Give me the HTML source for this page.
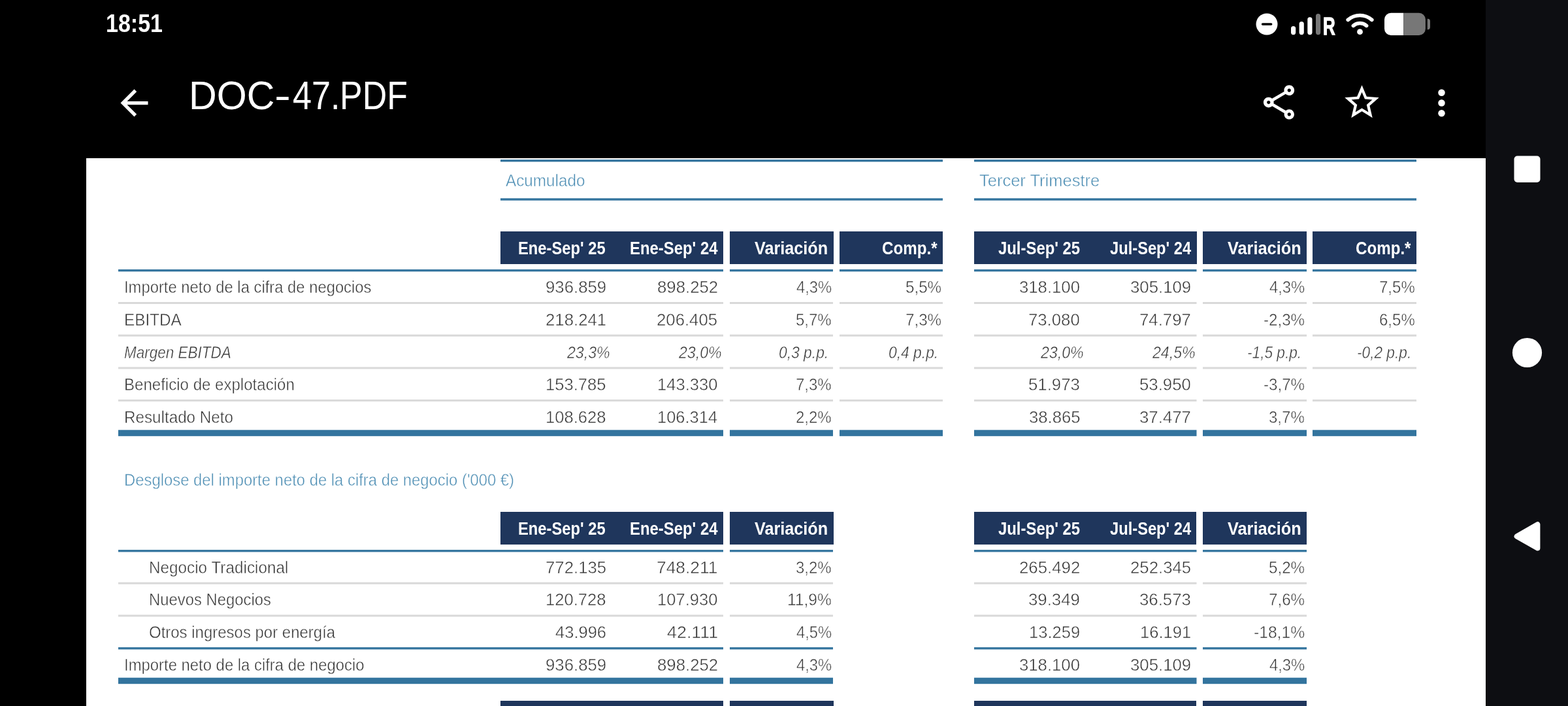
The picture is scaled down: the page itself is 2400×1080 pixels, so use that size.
<!DOCTYPE html>
<html lang="es">
<head>
<meta charset="utf-8">
<meta name="viewport" content="width=2400, initial-scale=1">
<title>DOC-47.PDF</title>
<style>
html,body{margin:0;padding:0}
body{position:relative;width:2400px;height:1080px;overflow:hidden;background:#000;font-family:"Liberation Sans",sans-serif}
header,main,nav,section,.page{position:absolute;left:0;top:0}
h1{margin:0;font-size:inherit;font-weight:400}
.page{left:132px;top:242px;width:2142px;height:838px;background:#fff}
nav{left:2274px;top:0;width:126px;height:1080px;background:#0d0e12}
.t{position:absolute;white-space:pre;line-height:1;font-weight:400;font-style:normal;transform-origin:0 0}
.b{font-weight:700}
.w{-webkit-text-stroke:0.5px #fff}
.k{-webkit-text-stroke:1.3px #fff}
.i{font-style:italic}
.ov,.ic{position:absolute}
.ov{left:0;top:0;display:block}
.ic{display:block;overflow:visible}
</style>
</head>
<body>
<div class="page"></div>
<nav></nav>
<header>
<span class="t b" style="left:162.13px;top:16px;font-size:39px;color:#fff;transform:scaleX(0.8719)">18:51</span>
<span class="t b k" style="left:2025.3px;top:22px;font-size:37px;color:#fff;transform:scaleX(0.7009)">R</span>
<svg class="ic" role="img" aria-label="Status icons" style="left:1915px;top:14px" width="280" height="46" viewBox="1915 14 280 46">
<circle cx="1939" cy="37" r="16.5" fill="#fff"/>
<rect x="1930.8" y="35.3" width="16.6" height="3.5" rx="1.75" fill="#000"/>
<rect x="1976" y="40" width="7.2" height="13.2" rx="3.6" fill="#fff"/>
<rect x="1988.6" y="33.1" width="7.2" height="20.1" rx="3.6" fill="#fff"/>
<rect x="2001.3" y="26.2" width="7.2" height="27" rx="3.6" fill="#fff"/>
<rect x="2014" y="21" width="7.2" height="32.2" rx="3.6" fill="#777"/>
<g fill="none" stroke="#fff" stroke-width="5.6" stroke-linecap="round">
<path d="M2063.2 30.4a27.5 27.5 0 0 1 36.6 0"/>
<path d="M2071.4 39.3a15.4 15.4 0 0 1 20.2 0"/>
</g>
<circle cx="2081.5" cy="48.7" r="4.4" fill="#fff"/>
<path d="M2129 19.8h19.1v34.2h-19.1a10 10 0 0 1-10-10v-14.2a10 10 0 0 1 10-10z" fill="#fff"/>
<path d="M2148.1 19.8h23.8a10 10 0 0 1 10 10v14.2a10 10 0 0 1-10 10h-23.8z" fill="#777"/>
<path d="M2184.8 28.8h0.6a3.6 3.6 0 0 1 3.6 3.6v9.2a3.6 3.6 0 0 1-3.6 3.6h-0.6z" fill="#777"/>
</svg>
<svg class="ic" role="img" aria-label="Back" style="left:173.8px;top:126px" width="63" height="63" viewBox="0 0 24 24"><path fill="#fff" d="M20 11H7.83l5.59-5.59L12 4l-8 8 8 8 1.41-1.41L7.83 13H20v-2z"/></svg>
<h1><span class="t" style="left:288.84px;top:116px;font-size:61px;color:#fff;transform:scaleX(0.9696)">DOC</span><span class="t" style="left:420.36px;top:116px;font-size:61px;color:#fff;transform:scaleX(1.2320)">-</span><span class="t" style="left:447.62px;top:116px;font-size:61px;color:#fff;transform:scaleX(0.8558)">47.</span><span class="t" style="left:519.58px;top:116px;font-size:61px;color:#fff;transform:scaleX(0.8519)">PDF</span></h1>
<svg class="ic" role="img" aria-label="Share" style="left:1926px;top:125.2px" width="63" height="63" viewBox="0 0 24 24"><path fill="#fff" fill-rule="evenodd" d="M18 16.08c-.76 0-1.44.3-1.96.77L8.91 12.7c.05-.23.09-.46.09-.7s-.04-.47-.09-.7l7.05-4.11c.54.5 1.25.81 2.04.81 1.66 0 3-1.34 3-3s-1.34-3-3-3-3 1.34-3 3c0 .24.04.47.09.7L8.04 9.81C7.5 9.31 6.79 9 6 9c-1.66 0-3 1.34-3 3s1.34 3 3 3c.79 0 1.5-.31 2.04-.81l7.12 4.16c-.05.21-.08.43-.08.65 0 1.61 1.31 2.92 2.92 2.92s2.92-1.31 2.92-2.92c0-1.61-1.31-2.92-2.92-2.92zM18 4c.55 0 1 .45 1 1s-.45 1-1 1-1-.45-1-1 .45-1 1-1zM6 13c-.55 0-1-.45-1-1s.45-1 1-1 1 .45 1 1-.45 1-1 1zm12 7.02c-.55 0-1-.45-1-1s.45-1 1-1 1 .45 1 1-.45 1-1 1z"/></svg>
<svg class="ic" role="img" aria-label="Favourite" style="left:2053px;top:124.6px" width="63" height="63" viewBox="0 0 24 24"><path fill="#fff" fill-rule="evenodd" d="M22 9.24l-7.19-.62L12 2 9.19 8.63 2 9.24l5.46 4.73L5.82 21 12 17.27 18.18 21l-1.63-7.03L22 9.24zM12 15.4l-3.76 2.27 1-4.28-3.32-2.88 4.38-.38L12 6.1l1.71 4.04 4.38.38-3.32 2.88 1 4.28L12 15.4z"/></svg>
<svg class="ic" role="img" aria-label="More options" style="left:2174.9px;top:125.9px" width="63" height="63" viewBox="0 0 24 24"><circle cx="12" cy="6" r="2" fill="#fff"/><circle cx="12" cy="12" r="2" fill="#fff"/><circle cx="12" cy="18" r="2" fill="#fff"/></svg>
</header>
<main>
<section>
<svg class="ov" width="2400" height="1080" viewBox="0 0 2400 1080" aria-hidden="true">
<rect x="766" y="244.1" width="677" height="3.4" fill="#33749e"/>
<rect x="766" y="303.3" width="677" height="3.4" fill="#33749e"/>
<rect x="1491" y="244.1" width="677" height="3.4" fill="#33749e"/>
<rect x="1491" y="303.3" width="677" height="3.4" fill="#33749e"/>
</svg>
<span class="t w" style="left:774.14px;top:264px;font-size:25.5px;color:#4c8db3;transform:scaleX(0.9515)">Acumulado</span>
<span class="t w" style="left:1498.86px;top:264px;font-size:25.5px;color:#4c8db3;transform:scaleX(0.9998)">Tercer Trimestre</span>
</section>
<section>
<svg class="ov" width="2400" height="1080" viewBox="0 0 2400 1080" aria-hidden="true">
<rect x="766" y="354" width="341" height="50" fill="#1f365c"/>
<rect x="1117" y="354" width="159" height="50" fill="#1f365c"/>
<rect x="1285" y="354" width="158" height="50" fill="#1f365c"/>
<rect x="1491" y="354" width="341" height="50" fill="#1f365c"/>
<rect x="1841" y="354" width="159" height="50" fill="#1f365c"/>
<rect x="2009" y="354" width="159" height="50" fill="#1f365c"/>
<rect x="181" y="412.1" width="926" height="3.3" fill="#33749e"/>
<rect x="1117" y="412.1" width="158" height="3.3" fill="#33749e"/>
<rect x="1285" y="412.1" width="158" height="3.3" fill="#33749e"/>
<rect x="1491" y="412.1" width="340.5" height="3.3" fill="#33749e"/>
<rect x="1841" y="412.1" width="159" height="3.3" fill="#33749e"/>
<rect x="2009" y="412.1" width="159" height="3.3" fill="#33749e"/>
<rect x="181" y="462" width="926" height="3" fill="#d9d9d9"/>
<rect x="1117" y="462" width="158" height="3" fill="#d9d9d9"/>
<rect x="1285" y="462" width="158" height="3" fill="#d9d9d9"/>
<rect x="1491" y="462" width="340.5" height="3" fill="#d9d9d9"/>
<rect x="1841" y="462" width="159" height="3" fill="#d9d9d9"/>
<rect x="2009" y="462" width="159" height="3" fill="#d9d9d9"/>
<rect x="181" y="511.72" width="926" height="3" fill="#d9d9d9"/>
<rect x="1117" y="511.72" width="158" height="3" fill="#d9d9d9"/>
<rect x="1285" y="511.72" width="158" height="3" fill="#d9d9d9"/>
<rect x="1491" y="511.72" width="340.5" height="3" fill="#d9d9d9"/>
<rect x="1841" y="511.72" width="159" height="3" fill="#d9d9d9"/>
<rect x="2009" y="511.72" width="159" height="3" fill="#d9d9d9"/>
<rect x="181" y="561.44" width="926" height="3" fill="#d9d9d9"/>
<rect x="1117" y="561.44" width="158" height="3" fill="#d9d9d9"/>
<rect x="1285" y="561.44" width="158" height="3" fill="#d9d9d9"/>
<rect x="1491" y="561.44" width="340.5" height="3" fill="#d9d9d9"/>
<rect x="1841" y="561.44" width="159" height="3" fill="#d9d9d9"/>
<rect x="2009" y="561.44" width="159" height="3" fill="#d9d9d9"/>
<rect x="181" y="611.16" width="926" height="3" fill="#d9d9d9"/>
<rect x="1117" y="611.16" width="158" height="3" fill="#d9d9d9"/>
<rect x="1285" y="611.16" width="158" height="3" fill="#d9d9d9"/>
<rect x="1491" y="611.16" width="340.5" height="3" fill="#d9d9d9"/>
<rect x="1841" y="611.16" width="159" height="3" fill="#d9d9d9"/>
<rect x="2009" y="611.16" width="159" height="3" fill="#d9d9d9"/>
<rect x="181" y="657.7" width="926" height="9.5" fill="#33749e"/>
<rect x="1117" y="657.7" width="158" height="9.5" fill="#33749e"/>
<rect x="1285" y="657.7" width="158" height="9.5" fill="#33749e"/>
<rect x="1491" y="657.7" width="340.5" height="9.5" fill="#33749e"/>
<rect x="1841" y="657.7" width="159" height="9.5" fill="#33749e"/>
<rect x="2009" y="657.7" width="159" height="9.5" fill="#33749e"/>
</svg>
<span class="t b" style="left:793.43px;top:367px;font-size:27px;color:#fff;transform:scaleX(0.8799)">Ene-Sep&#x27; 25</span>
<span class="t b" style="left:963.92px;top:367px;font-size:27px;color:#fff;transform:scaleX(0.8852)">Ene-Sep&#x27; 24</span>
<span class="t b" style="left:1154.77px;top:367px;font-size:27px;color:#fff;transform:scaleX(0.9344)">Variación</span>
<span class="t b" style="left:1527.98px;top:367px;font-size:27px;color:#fff;transform:scaleX(0.8844)">Jul-Sep&#x27; 25</span>
<span class="t b" style="left:1698.67px;top:367px;font-size:27px;color:#fff;transform:scaleX(0.8777)">Jul-Sep&#x27; 24</span>
<span class="t b" style="left:1879.49px;top:367px;font-size:27px;color:#fff;transform:scaleX(0.9383)">Variación</span>
<span class="t b" style="left:1349.94px;top:367px;font-size:27px;color:#fff;transform:scaleX(0.8950)">Comp.*</span>
<span class="t b" style="left:2074.76px;top:367px;font-size:27px;color:#fff;transform:scaleX(0.8939)">Comp.*</span>
<span class="t w" style="left:190.43px;top:427px;font-size:25.5px;color:#333;transform:scaleX(0.9335)">Importe neto de la cifra de negocios</span>
<span class="t w" style="left:190.3px;top:477px;font-size:25.5px;color:#333;transform:scaleX(0.9537)">EBITDA</span>
<span class="t i w" style="left:190.12px;top:527px;font-size:25.5px;color:#333;transform:scaleX(0.8828)">Margen EBITDA</span>
<span class="t w" style="left:190.2px;top:576px;font-size:25.5px;color:#333;transform:scaleX(0.9433)">Beneficio de explotación</span>
<span class="t w" style="left:190.31px;top:626px;font-size:25.5px;color:#333;transform:scaleX(0.9501)">Resultado Neto</span>
<span class="t w" style="left:834.86px;top:426px;font-size:26px;color:#333;transform:scaleX(0.9914)">936.859</span>
<span class="t w" style="left:1005.61px;top:426px;font-size:26px;color:#333;transform:scaleX(0.9912)">898.252</span>
<span class="t w" style="left:1218.73px;top:426px;font-size:26px;color:#333;transform:scaleX(0.9115)">4,3%</span>
<span class="t w" style="left:1385.91px;top:426px;font-size:26px;color:#333;transform:scaleX(0.9287)">5,5%</span>
<span class="t w" style="left:1560.2px;top:426px;font-size:26px;color:#333;transform:scaleX(0.9892)">318.100</span>
<span class="t w" style="left:1730.14px;top:426px;font-size:26px;color:#333;transform:scaleX(0.9918)">305.109</span>
<span class="t w" style="left:1942.75px;top:426px;font-size:26px;color:#333;transform:scaleX(0.9143)">4,3%</span>
<span class="t w" style="left:2110.54px;top:426px;font-size:26px;color:#333;transform:scaleX(0.9238)">7,5%</span>
<span class="t w" style="left:834.84px;top:476px;font-size:26px;color:#333;transform:scaleX(0.9918)">218.241</span>
<span class="t w" style="left:1005.23px;top:476px;font-size:26px;color:#333;transform:scaleX(0.9904)">206.405</span>
<span class="t w" style="left:1217.75px;top:476px;font-size:26px;color:#333;transform:scaleX(0.9222)">5,7%</span>
<span class="t w" style="left:1385.91px;top:476px;font-size:26px;color:#333;transform:scaleX(0.9287)">7,3%</span>
<span class="t w" style="left:1574.48px;top:476px;font-size:26px;color:#333;transform:scaleX(0.9895)">73.080</span>
<span class="t w" style="left:1744.32px;top:476px;font-size:26px;color:#333;transform:scaleX(0.9922)">74.797</span>
<span class="t w" style="left:1933.9px;top:476px;font-size:26px;color:#333;transform:scaleX(0.9283)">-2,3%</span>
<span class="t w" style="left:2110.84px;top:476px;font-size:26px;color:#333;transform:scaleX(0.9236)">6,5%</span>
<span class="t i w" style="left:868.24px;top:526px;font-size:26px;color:#333;transform:scaleX(0.8898)">23,3%</span>
<span class="t i w" style="left:1039.18px;top:526px;font-size:26px;color:#333;transform:scaleX(0.8901)">23,0%</span>
<span class="t i w" style="left:1191.51px;top:526px;font-size:26px;color:#333;transform:scaleX(0.8782)">0,3 p.p.</span>
<span class="t i w" style="left:1359.51px;top:526px;font-size:26px;color:#333;transform:scaleX(0.8782)">0,4 p.p.</span>
<span class="t i w" style="left:1593.24px;top:526px;font-size:26px;color:#333;transform:scaleX(0.8898)">23,0%</span>
<span class="t i w" style="left:1764.18px;top:526px;font-size:26px;color:#333;transform:scaleX(0.8901)">24,5%</span>
<span class="t i w" style="left:1908.88px;top:526px;font-size:26px;color:#333;transform:scaleX(0.8708)">-1,5 p.p.</span>
<span class="t i w" style="left:2077.2px;top:526px;font-size:26px;color:#333;transform:scaleX(0.8721)">-0,2 p.p.</span>
<span class="t w" style="left:835.24px;top:575px;font-size:26px;color:#333;transform:scaleX(0.9831)">153.785</span>
<span class="t w" style="left:1006.23px;top:575px;font-size:26px;color:#333;transform:scaleX(0.9828)">143.330</span>
<span class="t w" style="left:1217.76px;top:575px;font-size:26px;color:#333;transform:scaleX(0.9219)">7,3%</span>
<span class="t w" style="left:1574.49px;top:575px;font-size:26px;color:#333;transform:scaleX(0.9919)">51.973</span>
<span class="t w" style="left:1744.29px;top:575px;font-size:26px;color:#333;transform:scaleX(0.9912)">53.950</span>
<span class="t w" style="left:1933.9px;top:575px;font-size:26px;color:#333;transform:scaleX(0.9283)">-3,7%</span>
<span class="t w" style="left:835.24px;top:625px;font-size:26px;color:#333;transform:scaleX(0.9837)">108.628</span>
<span class="t w" style="left:1006.36px;top:625px;font-size:26px;color:#333;transform:scaleX(0.9796)">106.314</span>
<span class="t w" style="left:1217.77px;top:625px;font-size:26px;color:#333;transform:scaleX(0.9217)">2,2%</span>
<span class="t w" style="left:1574.5px;top:625px;font-size:26px;color:#333;transform:scaleX(0.9884)">38.865</span>
<span class="t w" style="left:1744.27px;top:625px;font-size:26px;color:#333;transform:scaleX(0.9929)">37.477</span>
<span class="t w" style="left:1942.2px;top:625px;font-size:26px;color:#333;transform:scaleX(0.9237)">3,7%</span>
</section>
<section>
<span class="t w" style="left:190.03px;top:722px;font-size:25.5px;color:#4c8db3;transform:scaleX(0.9351)">Desglose del importe neto de la cifra de negocio (&#x27;000 €)</span>
<svg class="ov" width="2400" height="1080" viewBox="0 0 2400 1080" aria-hidden="true">
<rect x="766" y="783" width="341" height="50" fill="#1f365c"/>
<rect x="1117" y="783" width="159" height="50" fill="#1f365c"/>
<rect x="1491" y="783" width="340" height="50" fill="#1f365c"/>
<rect x="1841" y="783" width="159" height="50" fill="#1f365c"/>
<rect x="181" y="841.1" width="926" height="3.3" fill="#33749e"/>
<rect x="1117" y="841.1" width="158" height="3.3" fill="#33749e"/>
<rect x="1491" y="841.1" width="340.5" height="3.3" fill="#33749e"/>
<rect x="1841" y="841.1" width="159" height="3.3" fill="#33749e"/>
<rect x="181" y="890.7" width="926" height="3" fill="#d9d9d9"/>
<rect x="1117" y="890.7" width="158" height="3" fill="#d9d9d9"/>
<rect x="1491" y="890.7" width="340.5" height="3" fill="#d9d9d9"/>
<rect x="1841" y="890.7" width="159" height="3" fill="#d9d9d9"/>
<rect x="181" y="940.42" width="926" height="3" fill="#d9d9d9"/>
<rect x="1117" y="940.42" width="158" height="3" fill="#d9d9d9"/>
<rect x="1491" y="940.42" width="340.5" height="3" fill="#d9d9d9"/>
<rect x="1841" y="940.42" width="159" height="3" fill="#d9d9d9"/>
<rect x="181" y="990.14" width="926" height="3.3" fill="#33749e"/>
<rect x="1117" y="990.14" width="158" height="3.3" fill="#33749e"/>
<rect x="1491" y="990.14" width="340.5" height="3.3" fill="#33749e"/>
<rect x="1841" y="990.14" width="159" height="3.3" fill="#33749e"/>
<rect x="181" y="1036.7" width="926" height="9.5" fill="#33749e"/>
<rect x="1117" y="1036.7" width="158" height="9.5" fill="#33749e"/>
<rect x="1491" y="1036.7" width="340.5" height="9.5" fill="#33749e"/>
<rect x="1841" y="1036.7" width="159" height="9.5" fill="#33749e"/>
</svg>
<span class="t b" style="left:793.43px;top:796px;font-size:27px;color:#fff;transform:scaleX(0.8799)">Ene-Sep&#x27; 25</span>
<span class="t b" style="left:963.92px;top:796px;font-size:27px;color:#fff;transform:scaleX(0.8852)">Ene-Sep&#x27; 24</span>
<span class="t b" style="left:1154.77px;top:796px;font-size:27px;color:#fff;transform:scaleX(0.9344)">Variación</span>
<span class="t b" style="left:1527.98px;top:796px;font-size:27px;color:#fff;transform:scaleX(0.8844)">Jul-Sep&#x27; 25</span>
<span class="t b" style="left:1698.67px;top:796px;font-size:27px;color:#fff;transform:scaleX(0.8777)">Jul-Sep&#x27; 24</span>
<span class="t b" style="left:1879.49px;top:796px;font-size:27px;color:#fff;transform:scaleX(0.9383)">Variación</span>
<span class="t w" style="left:227.62px;top:856px;font-size:25.5px;color:#333;transform:scaleX(0.9526)">Negocio Tradicional</span>
<span class="t w" style="left:227.71px;top:905px;font-size:25.5px;color:#333;transform:scaleX(0.9350)">Nuevos Negocios</span>
<span class="t w" style="left:227.86px;top:955px;font-size:25.5px;color:#333;transform:scaleX(0.9401)">Otros ingresos por energía</span>
<span class="t w" style="left:190.38px;top:1005px;font-size:25.5px;color:#333;transform:scaleX(0.9359)">Importe neto de la cifra de negocio</span>
<span class="t w" style="left:834.59px;top:855px;font-size:26px;color:#333;transform:scaleX(0.9907)">772.135</span>
<span class="t w" style="left:1005.35px;top:855px;font-size:26px;color:#333;transform:scaleX(1.0137)">748.211</span>
<span class="t w" style="left:1217.82px;top:855px;font-size:26px;color:#333;transform:scaleX(0.9209)">3,2%</span>
<span class="t w" style="left:1559.86px;top:855px;font-size:26px;color:#333;transform:scaleX(0.9929)">265.492</span>
<span class="t w" style="left:1730.03px;top:855px;font-size:26px;color:#333;transform:scaleX(0.9907)">252.345</span>
<span class="t w" style="left:1941.91px;top:855px;font-size:26px;color:#333;transform:scaleX(0.9287)">5,2%</span>
<span class="t w" style="left:835.24px;top:904px;font-size:26px;color:#333;transform:scaleX(0.9837)">120.728</span>
<span class="t w" style="left:1006.23px;top:904px;font-size:26px;color:#333;transform:scaleX(0.9828)">107.930</span>
<span class="t w" style="left:1204.81px;top:904px;font-size:26px;color:#333;transform:scaleX(0.9433)">11,9%</span>
<span class="t w" style="left:1574.47px;top:904px;font-size:26px;color:#333;transform:scaleX(0.9923)">39.349</span>
<span class="t w" style="left:1744.27px;top:904px;font-size:26px;color:#333;transform:scaleX(0.9922)">36.573</span>
<span class="t w" style="left:1941.91px;top:904px;font-size:26px;color:#333;transform:scaleX(0.9287)">7,6%</span>
<span class="t w" style="left:850.13px;top:954px;font-size:26px;color:#333;transform:scaleX(0.9813)">43.996</span>
<span class="t w" style="left:1020.82px;top:954px;font-size:26px;color:#333;transform:scaleX(1.0332)">42.111</span>
<span class="t w" style="left:1218.73px;top:954px;font-size:26px;color:#333;transform:scaleX(0.9115)">4,5%</span>
<span class="t w" style="left:1575.29px;top:954px;font-size:26px;color:#333;transform:scaleX(0.9818)">13.259</span>
<span class="t w" style="left:1745.03px;top:954px;font-size:26px;color:#333;transform:scaleX(0.9836)">16.191</span>
<span class="t w" style="left:1918.88px;top:954px;font-size:26px;color:#333;transform:scaleX(0.9474)">-18,1%</span>
<span class="t w" style="left:834.86px;top:1004px;font-size:26px;color:#333;transform:scaleX(0.9914)">936.859</span>
<span class="t w" style="left:1005.61px;top:1004px;font-size:26px;color:#333;transform:scaleX(0.9912)">898.252</span>
<span class="t w" style="left:1218.73px;top:1004px;font-size:26px;color:#333;transform:scaleX(0.9115)">4,3%</span>
<span class="t w" style="left:1560.2px;top:1004px;font-size:26px;color:#333;transform:scaleX(0.9892)">318.100</span>
<span class="t w" style="left:1730.14px;top:1004px;font-size:26px;color:#333;transform:scaleX(0.9918)">305.109</span>
<span class="t w" style="left:1942.75px;top:1004px;font-size:26px;color:#333;transform:scaleX(0.9143)">4,3%</span>
</section>
<section>
<svg class="ov" width="2400" height="1080" viewBox="0 0 2400 1080" aria-hidden="true">
<rect x="766" y="1072" width="341" height="8" fill="#1f365c"/>
<rect x="1117" y="1072" width="159" height="8" fill="#1f365c"/>
<rect x="1491" y="1072" width="340" height="8" fill="#1f365c"/>
<rect x="1841" y="1072" width="159" height="8" fill="#1f365c"/>
</svg>
</section>
</main>
<svg class="ic" role="img" aria-label="Navigation buttons" style="left:2274px;top:0" width="126" height="1080" viewBox="2274 0 126 1080">
<rect x="2317.5" y="238.6" width="40" height="40.4" rx="5" fill="#fff"/>
<circle cx="2337.5" cy="539.5" r="22.6" fill="#fff"/>
<path d="M2321.6 820.4 L2353.4 802.3 L2353.4 838.5 Z" fill="#fff" stroke="#fff" stroke-width="8" stroke-linejoin="round"/>
</svg>
</body>
</html>
